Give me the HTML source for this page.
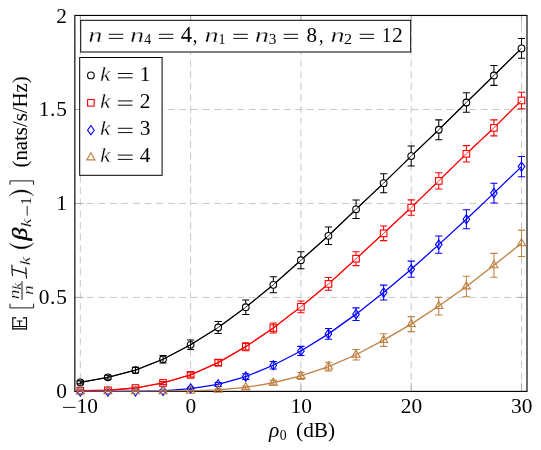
<!DOCTYPE html>
<html><head><meta charset="utf-8"><title>chart</title>
<style>html,body{margin:0;padding:0;background:#fff}svg{display:block;will-change:transform}text{font-family:"Liberation Serif",serif;fill:#000}.i{font-style:italic}.bi{font-style:italic;font-weight:bold}</style>
</head><body>
<svg width="541" height="450" viewBox="0 0 541 450">
<rect x="0" y="0" width="541" height="450" fill="#ffffff"/>
<g stroke="#bfbfbf" stroke-width="0.86" stroke-dasharray="7.1 4.5" fill="none">
<line x1="80.30" y1="391.4" x2="80.30" y2="15.45"/>
<line x1="190.60" y1="391.4" x2="190.60" y2="15.45"/>
<line x1="300.90" y1="391.4" x2="300.90" y2="15.45"/>
<line x1="411.20" y1="391.4" x2="411.20" y2="15.45"/>
<line x1="521.50" y1="391.4" x2="521.50" y2="15.45"/>
<line x1="74.85" y1="297.42" x2="527.0" y2="297.42"/>
<line x1="74.85" y1="203.45" x2="527.0" y2="203.45"/>
<line x1="74.85" y1="109.48" x2="527.0" y2="109.48"/>
</g>
<g stroke="#808080" stroke-width="0.45" fill="none">
<path d="M80.30 391.4v-9.2M80.30 15.45v9.2"/>
<path d="M190.60 391.4v-9.2M190.60 15.45v9.2"/>
<path d="M300.90 391.4v-9.2M300.90 15.45v9.2"/>
<path d="M411.20 391.4v-9.2M411.20 15.45v9.2"/>
<path d="M521.50 391.4v-9.2M521.50 15.45v9.2"/>
<path d="M74.85 297.42h9.2M527.0 297.42h-9.2"/>
<path d="M74.85 203.45h9.2M527.0 203.45h-9.2"/>
<path d="M74.85 109.48h9.2M527.0 109.48h-9.2"/>
</g>
<rect x="74.85" y="15.45" width="452.15" height="375.95" fill="none" stroke="#000" stroke-width="1.15"/>
<defs><clipPath id="axclip"><rect x="74.85" y="15.45" width="452.15" height="375.95"/></clipPath></defs>
<g stroke="#000000" fill="none" clip-path="url(#axclip)">
<polyline points="80.30,382.38 107.88,377.30 135.45,370.16 163.02,359.26 190.60,344.79 218.18,327.50 245.75,307.20 273.32,284.83 300.90,260.21 328.47,235.78 356.05,209.28 383.62,183.15 411.20,156.09 438.77,129.77 466.35,102.52 493.93,75.46 521.50,48.39" stroke-width="1.3"/>
<path d="M80.30 380.88V383.88M76.70 380.88H83.90M76.70 383.88H83.90M107.88 375.30V379.30M104.28 375.30H111.47M104.28 379.30H111.47M135.45 367.36V372.96M131.85 367.36H139.05M131.85 372.96H139.05M163.02 355.56V362.96M159.42 355.56H166.62M159.42 362.96H166.62M190.60 339.99V349.59M187.00 339.99H194.20M187.00 349.59H194.20M218.18 321.50V333.50M214.58 321.50H221.78M214.58 333.50H221.78M245.75 299.90V314.50M242.15 299.90H249.35M242.15 314.50H249.35M273.32 276.83V292.83M269.72 276.83H276.93M269.72 292.83H276.93M300.90 251.71V268.71M297.30 251.71H304.50M297.30 268.71H304.50M328.47 226.98V244.58M324.87 226.98H332.07M324.87 244.58H332.07M356.05 200.08V218.48M352.45 200.08H359.65M352.45 218.48H359.65M383.62 173.65V192.65M380.02 173.65H387.23M380.02 192.65H387.23M411.20 146.09V166.09M407.60 146.09H414.80M407.60 166.09H414.80M438.77 119.87V139.67M435.17 119.87H442.38M435.17 139.67H442.38M466.35 92.72V112.32M462.75 92.72H469.95M462.75 112.32H469.95M493.93 65.56V85.36M490.32 65.56H497.53M490.32 85.36H497.53M521.50 38.59V58.19M517.90 38.59H525.10M517.90 58.19H525.10" stroke-width="1.05"/>
</g>
<circle cx="80.30" cy="382.38" r="3.35" fill="none" stroke="#000000" stroke-width="1.1"/>
<circle cx="107.88" cy="377.30" r="3.35" fill="none" stroke="#000000" stroke-width="1.1"/>
<circle cx="135.45" cy="370.16" r="3.35" fill="none" stroke="#000000" stroke-width="1.1"/>
<circle cx="163.02" cy="359.26" r="3.35" fill="none" stroke="#000000" stroke-width="1.1"/>
<circle cx="190.60" cy="344.79" r="3.35" fill="none" stroke="#000000" stroke-width="1.1"/>
<circle cx="218.18" cy="327.50" r="3.35" fill="#fff" stroke="#000000" stroke-width="1.1"/>
<circle cx="245.75" cy="307.20" r="3.35" fill="#fff" stroke="#000000" stroke-width="1.1"/>
<circle cx="273.32" cy="284.83" r="3.35" fill="#fff" stroke="#000000" stroke-width="1.1"/>
<circle cx="300.90" cy="260.21" r="3.35" fill="#fff" stroke="#000000" stroke-width="1.1"/>
<circle cx="328.47" cy="235.78" r="3.35" fill="#fff" stroke="#000000" stroke-width="1.1"/>
<circle cx="356.05" cy="209.28" r="3.35" fill="#fff" stroke="#000000" stroke-width="1.1"/>
<circle cx="383.62" cy="183.15" r="3.35" fill="#fff" stroke="#000000" stroke-width="1.1"/>
<circle cx="411.20" cy="156.09" r="3.35" fill="#fff" stroke="#000000" stroke-width="1.1"/>
<circle cx="438.77" cy="129.77" r="3.35" fill="#fff" stroke="#000000" stroke-width="1.1"/>
<circle cx="466.35" cy="102.52" r="3.35" fill="#fff" stroke="#000000" stroke-width="1.1"/>
<circle cx="493.93" cy="75.46" r="3.35" fill="#fff" stroke="#000000" stroke-width="1.1"/>
<circle cx="521.50" cy="48.39" r="3.35" fill="#fff" stroke="#000000" stroke-width="1.1"/>
<g stroke="#000000" fill="none" clip-path="url(#axclip)" stroke-width="0.8">
<polyline points="80.30,382.38 107.88,377.30 135.45,370.16 163.02,359.26 190.60,344.79 218.18,327.50 245.75,307.20 273.32,284.83 300.90,260.21 328.47,235.78 356.05,209.28 383.62,183.15 411.20,156.09 438.77,129.77 466.35,102.52 493.93,75.46 521.50,48.39"/>
</g>
<g stroke="#ff0000" fill="none" clip-path="url(#axclip)">
<polyline points="80.30,390.65 107.88,390.27 135.45,388.02 163.02,382.94 190.60,374.86 218.18,362.64 245.75,346.67 273.32,328.06 300.90,306.82 328.47,283.89 356.05,258.71 383.62,233.33 411.20,207.58 438.77,180.90 466.35,153.83 493.93,127.89 521.50,100.45" stroke-width="1.3"/>
<path d="M80.30 390.15V391.15M76.70 390.15H83.90M76.70 391.15H83.90M107.88 389.57V390.97M104.28 389.57H111.47M104.28 390.97H111.47M135.45 387.02V389.02M131.85 387.02H139.05M131.85 389.02H139.05M163.02 381.44V384.44M159.42 381.44H166.62M159.42 384.44H166.62M190.60 372.66V377.06M187.00 372.66H194.20M187.00 377.06H194.20M218.18 359.64V365.64M214.58 359.64H221.78M214.58 365.64H221.78M245.75 342.67V350.67M242.15 342.67H249.35M242.15 350.67H249.35M273.32 323.06V333.06M269.72 323.06H276.93M269.72 333.06H276.93M300.90 300.92V312.72M297.30 300.92H304.50M297.30 312.72H304.50M328.47 277.49V290.29M324.87 277.49H332.07M324.87 290.29H332.07M356.05 251.81V265.61M352.45 251.81H359.65M352.45 265.61H359.65M383.62 226.03V240.63M380.02 226.03H387.23M380.02 240.63H387.23M411.20 199.88V215.28M407.60 199.88H414.80M407.60 215.28H414.80M438.77 172.80V189.00M435.17 172.80H442.38M435.17 189.00H442.38M466.35 145.63V162.03M462.75 145.63H469.95M462.75 162.03H469.95M493.93 119.89V135.89M490.32 119.89H497.53M490.32 135.89H497.53M521.50 92.25V108.65M517.90 92.25H525.10M517.90 108.65H525.10" stroke-width="1.05"/>
</g>
<rect x="77.00" y="387.35" width="6.60" height="6.60" fill="none" stroke="#ff0000" stroke-width="1.1"/>
<rect x="104.58" y="386.97" width="6.60" height="6.60" fill="none" stroke="#ff0000" stroke-width="1.1"/>
<rect x="132.15" y="384.72" width="6.60" height="6.60" fill="none" stroke="#ff0000" stroke-width="1.1"/>
<rect x="159.72" y="379.64" width="6.60" height="6.60" fill="none" stroke="#ff0000" stroke-width="1.1"/>
<rect x="187.30" y="371.56" width="6.60" height="6.60" fill="none" stroke="#ff0000" stroke-width="1.1"/>
<rect x="214.88" y="359.34" width="6.60" height="6.60" fill="none" stroke="#ff0000" stroke-width="1.1"/>
<rect x="242.45" y="343.37" width="6.60" height="6.60" fill="none" stroke="#ff0000" stroke-width="1.1"/>
<rect x="270.02" y="324.76" width="6.60" height="6.60" fill="none" stroke="#ff0000" stroke-width="1.1"/>
<rect x="297.60" y="303.52" width="6.60" height="6.60" fill="#fff" stroke="#ff0000" stroke-width="1.1"/>
<rect x="325.17" y="280.59" width="6.60" height="6.60" fill="#fff" stroke="#ff0000" stroke-width="1.1"/>
<rect x="352.75" y="255.41" width="6.60" height="6.60" fill="#fff" stroke="#ff0000" stroke-width="1.1"/>
<rect x="380.32" y="230.03" width="6.60" height="6.60" fill="#fff" stroke="#ff0000" stroke-width="1.1"/>
<rect x="407.90" y="204.28" width="6.60" height="6.60" fill="#fff" stroke="#ff0000" stroke-width="1.1"/>
<rect x="435.47" y="177.60" width="6.60" height="6.60" fill="#fff" stroke="#ff0000" stroke-width="1.1"/>
<rect x="463.05" y="150.53" width="6.60" height="6.60" fill="#fff" stroke="#ff0000" stroke-width="1.1"/>
<rect x="490.62" y="124.59" width="6.60" height="6.60" fill="#fff" stroke="#ff0000" stroke-width="1.1"/>
<rect x="518.20" y="97.15" width="6.60" height="6.60" fill="#fff" stroke="#ff0000" stroke-width="1.1"/>
<g stroke="#ff0000" fill="none" clip-path="url(#axclip)" stroke-width="0.8">
<polyline points="80.30,390.65 107.88,390.27 135.45,388.02 163.02,382.94 190.60,374.86 218.18,362.64 245.75,346.67 273.32,328.06 300.90,306.82 328.47,283.89 356.05,258.71 383.62,233.33 411.20,207.58 438.77,180.90 466.35,153.83 493.93,127.89 521.50,100.45"/>
</g>
<g stroke="#0000ff" fill="none" clip-path="url(#axclip)">
<polyline points="80.30,391.40 107.88,391.40 135.45,391.31 163.02,390.84 190.60,388.58 218.18,384.45 245.75,376.55 273.32,365.27 300.90,350.99 328.47,333.89 356.05,314.15 383.62,292.54 411.20,269.23 438.77,244.61 466.35,219.24 493.93,193.11 521.50,166.61" stroke-width="1.3"/>
<path d="M80.30 391.20V391.60M76.70 391.20H83.90M76.70 391.60H83.90M107.88 391.10V391.70M104.28 391.10H111.47M104.28 391.70H111.47M135.45 390.81V391.81M131.85 390.81H139.05M131.85 391.81H139.05M163.02 390.04V391.64M159.42 390.04H166.62M159.42 391.64H166.62M190.60 387.28V389.88M187.00 387.28H194.20M187.00 389.88H194.20M218.18 382.45V386.45M214.58 382.45H221.78M214.58 386.45H221.78M245.75 373.75V379.35M242.15 373.75H249.35M242.15 379.35H249.35M273.32 361.47V369.07M269.72 361.47H276.93M269.72 369.07H276.93M300.90 346.39V355.59M297.30 346.39H304.50M297.30 355.59H304.50M328.47 328.49V339.29M324.87 328.49H332.07M324.87 339.29H332.07M356.05 307.85V320.45M352.45 307.85H359.65M352.45 320.45H359.65M383.62 285.14V299.94M380.02 285.14H387.23M380.02 299.94H387.23M411.20 261.13V277.33M407.60 261.13H414.80M407.60 277.33H414.80M438.77 235.91V253.31M435.17 235.91H442.38M435.17 253.31H442.38M466.35 209.74V228.74M462.75 209.74H469.95M462.75 228.74H469.95M493.93 183.31V202.91M490.32 183.31H497.53M490.32 202.91H497.53M521.50 156.41V176.81M517.90 156.41H525.10M517.90 176.81H525.10" stroke-width="1.05"/>
</g>
<path d="M80.30 386.75L83.60 391.40L80.30 396.05L77.00 391.40Z" fill="none" stroke="#0000ff" stroke-width="1.1"/>
<path d="M107.88 386.75L111.17 391.40L107.88 396.05L104.58 391.40Z" fill="none" stroke="#0000ff" stroke-width="1.1"/>
<path d="M135.45 386.66L138.75 391.31L135.45 395.96L132.15 391.31Z" fill="none" stroke="#0000ff" stroke-width="1.1"/>
<path d="M163.02 386.19L166.32 390.84L163.02 395.49L159.72 390.84Z" fill="none" stroke="#0000ff" stroke-width="1.1"/>
<path d="M190.60 383.93L193.90 388.58L190.60 393.23L187.30 388.58Z" fill="none" stroke="#0000ff" stroke-width="1.1"/>
<path d="M218.18 379.80L221.48 384.45L218.18 389.10L214.88 384.45Z" fill="none" stroke="#0000ff" stroke-width="1.1"/>
<path d="M245.75 371.90L249.05 376.55L245.75 381.20L242.45 376.55Z" fill="none" stroke="#0000ff" stroke-width="1.1"/>
<path d="M273.32 360.62L276.62 365.27L273.32 369.92L270.02 365.27Z" fill="none" stroke="#0000ff" stroke-width="1.1"/>
<path d="M300.90 346.34L304.20 350.99L300.90 355.64L297.60 350.99Z" fill="none" stroke="#0000ff" stroke-width="1.1"/>
<path d="M328.47 329.24L331.77 333.89L328.47 338.54L325.17 333.89Z" fill="none" stroke="#0000ff" stroke-width="1.1"/>
<path d="M356.05 309.50L359.35 314.15L356.05 318.80L352.75 314.15Z" fill="none" stroke="#0000ff" stroke-width="1.1"/>
<path d="M383.62 287.89L386.93 292.54L383.62 297.19L380.32 292.54Z" fill="none" stroke="#0000ff" stroke-width="1.1"/>
<path d="M411.20 264.58L414.50 269.23L411.20 273.88L407.90 269.23Z" fill="none" stroke="#0000ff" stroke-width="1.1"/>
<path d="M438.77 239.96L442.07 244.61L438.77 249.26L435.47 244.61Z" fill="none" stroke="#0000ff" stroke-width="1.1"/>
<path d="M466.35 214.59L469.65 219.24L466.35 223.89L463.05 219.24Z" fill="none" stroke="#0000ff" stroke-width="1.1"/>
<path d="M493.93 188.46L497.23 193.11L493.93 197.76L490.62 193.11Z" fill="none" stroke="#0000ff" stroke-width="1.1"/>
<path d="M521.50 161.96L524.80 166.61L521.50 171.26L518.20 166.61Z" fill="none" stroke="#0000ff" stroke-width="1.1"/>
<g stroke="#bf8040" fill="none" clip-path="url(#axclip)">
<polyline points="80.30,391.40 107.88,391.40 135.45,391.31 163.02,391.21 190.60,390.84 218.18,389.90 245.75,387.45 273.32,382.75 300.90,375.99 328.47,366.59 356.05,354.75 383.62,340.09 411.20,324.11 438.77,306.07 466.35,286.52 493.93,265.29 521.50,243.30" stroke-width="1.3"/>
<path d="M80.30 391.20V391.60M76.70 391.20H83.90M76.70 391.60H83.90M107.88 391.20V391.60M104.28 391.20H111.47M104.28 391.60H111.47M135.45 391.11V391.51M131.85 391.11H139.05M131.85 391.51H139.05M163.02 391.01V391.41M159.42 391.01H166.62M159.42 391.41H166.62M190.60 390.44V391.24M187.00 390.44H194.20M187.00 391.24H194.20M218.18 389.10V390.70M214.58 389.10H221.78M214.58 390.70H221.78M245.75 385.95V388.95M242.15 385.95H249.35M242.15 388.95H249.35M273.32 380.25V385.25M269.72 380.25H276.93M269.72 385.25H276.93M300.90 372.59V379.39M297.30 372.59H304.50M297.30 379.39H304.50M328.47 362.29V370.89M324.87 362.29H332.07M324.87 370.89H332.07M356.05 349.45V360.05M352.45 349.45H359.65M352.45 360.05H359.65M383.62 333.79V346.39M380.02 333.79H387.23M380.02 346.39H387.23M411.20 316.61V331.61M407.60 316.61H414.80M407.60 331.61H414.80M438.77 297.17V314.97M435.17 297.17H442.38M435.17 314.97H442.38M466.35 276.22V296.82M462.75 276.22H469.95M462.75 296.82H469.95M493.93 253.39V277.19M490.32 253.39H497.53M490.32 277.19H497.53M521.50 230.10V256.50M517.90 230.10H525.10M517.90 256.50H525.10" stroke-width="1.05"/>
</g>
<path d="M80.30 386.60L84.40 393.80L76.20 393.80Z" fill="none" stroke="#bf8040" stroke-width="1.1"/>
<path d="M107.88 386.60L111.97 393.80L103.78 393.80Z" fill="none" stroke="#bf8040" stroke-width="1.1"/>
<path d="M135.45 386.51L139.55 393.71L131.35 393.71Z" fill="none" stroke="#bf8040" stroke-width="1.1"/>
<path d="M163.02 386.41L167.12 393.61L158.92 393.61Z" fill="none" stroke="#bf8040" stroke-width="1.1"/>
<path d="M190.60 386.04L194.70 393.24L186.50 393.24Z" fill="none" stroke="#bf8040" stroke-width="1.1"/>
<path d="M218.18 385.10L222.28 392.30L214.08 392.30Z" fill="none" stroke="#bf8040" stroke-width="1.1"/>
<path d="M245.75 382.65L249.85 389.85L241.65 389.85Z" fill="none" stroke="#bf8040" stroke-width="1.1"/>
<path d="M273.32 377.95L277.43 385.15L269.22 385.15Z" fill="none" stroke="#bf8040" stroke-width="1.1"/>
<path d="M300.90 371.19L305.00 378.39L296.80 378.39Z" fill="none" stroke="#bf8040" stroke-width="1.1"/>
<path d="M328.47 361.79L332.57 368.99L324.37 368.99Z" fill="none" stroke="#bf8040" stroke-width="1.1"/>
<path d="M356.05 349.95L360.15 357.15L351.95 357.15Z" fill="none" stroke="#bf8040" stroke-width="1.1"/>
<path d="M383.62 335.29L387.73 342.49L379.52 342.49Z" fill="none" stroke="#bf8040" stroke-width="1.1"/>
<path d="M411.20 319.31L415.30 326.51L407.10 326.51Z" fill="none" stroke="#bf8040" stroke-width="1.1"/>
<path d="M438.77 301.27L442.88 308.47L434.67 308.47Z" fill="none" stroke="#bf8040" stroke-width="1.1"/>
<path d="M466.35 281.72L470.45 288.92L462.25 288.92Z" fill="none" stroke="#bf8040" stroke-width="1.1"/>
<path d="M493.93 260.49L498.03 267.69L489.82 267.69Z" fill="none" stroke="#bf8040" stroke-width="1.1"/>
<path d="M521.50 238.50L525.60 245.70L517.40 245.70Z" fill="none" stroke="#bf8040" stroke-width="1.1"/>
<g font-size="21.4">
<text x="67.0" y="398.40" text-anchor="end">0</text>
<text x="38.7" y="304.42" textLength="28.2" lengthAdjust="spacing">0.5</text>
<text x="67.0" y="210.45" text-anchor="end">1</text>
<text x="38.7" y="116.48" textLength="28.2" lengthAdjust="spacing">1.5</text>
<text x="67.0" y="22.50" text-anchor="end">2</text>
<text x="190.90" y="413.3" text-anchor="middle">0</text>
<text x="301.20" y="413.3" text-anchor="middle">10</text>
<text x="411.50" y="413.3" text-anchor="middle">20</text>
<text x="521.80" y="413.3" text-anchor="middle">30</text>
<path d="M63.0 407.4H75.6" stroke="#000" stroke-width="0.9" fill="none"/>
<text x="76.6" y="413.3">10</text>
</g>
<text transform="translate(268.95 437.10) scale(1.022 1)" font-size="21" class="i" fill="#000">ρ</text>
<text transform="translate(279.68 439.50) scale(0.925 1)" font-size="14.8" fill="#000">0</text>
<text x="296.1" y="437.1" font-size="21.3">(dB)</text>
<rect x="80.7" y="20.3" width="330.0" height="31.7" fill="#fff" stroke="#000" stroke-width="1.0"/>
<rect x="79.7" y="57.5" width="82.4" height="117.8" fill="#fff" stroke="#000" stroke-width="1.0"/>
<circle cx="90.90" cy="75.40" r="3.35" fill="none" stroke="#000000" stroke-width="1.1"/>
<text transform="translate(99.92 80.60) scale(1.164 1)" font-size="20.4" class="i" fill="#000" stroke="#fff" stroke-width="0.291">k</text>
<path d="M117.8 73.50H132.6M117.8 77.80H132.6" stroke="#000" stroke-width="0.95" fill="none"/>
<text x="139.7" y="80.60" font-size="21.4">1</text>
<rect x="87.60" y="99.50" width="6.60" height="6.60" fill="none" stroke="#ff0000" stroke-width="1.1"/>
<text transform="translate(99.92 108.00) scale(1.164 1)" font-size="20.4" class="i" fill="#000" stroke="#fff" stroke-width="0.291">k</text>
<path d="M117.8 100.90H132.6M117.8 105.20H132.6" stroke="#000" stroke-width="0.95" fill="none"/>
<text x="139.7" y="108.00" font-size="21.4">2</text>
<path d="M90.90 125.55L94.20 130.20L90.90 134.85L87.60 130.20Z" fill="none" stroke="#0000ff" stroke-width="1.1"/>
<text transform="translate(99.92 135.40) scale(1.164 1)" font-size="20.4" class="i" fill="#000" stroke="#fff" stroke-width="0.291">k</text>
<path d="M117.8 128.30H132.6M117.8 132.60H132.6" stroke="#000" stroke-width="0.95" fill="none"/>
<text x="139.7" y="135.40" font-size="21.4">3</text>
<path d="M90.90 152.70L95.00 159.90L86.80 159.90Z" fill="none" stroke="#bf8040" stroke-width="1.1"/>
<text transform="translate(99.92 162.20) scale(1.164 1)" font-size="20.4" class="i" fill="#000" stroke="#fff" stroke-width="0.291">k</text>
<path d="M117.8 155.10H132.6M117.8 159.40H132.6" stroke="#000" stroke-width="0.95" fill="none"/>
<text x="139.7" y="162.20" font-size="21.4">4</text>
<text transform="translate(88.19 41.50) scale(1.351 1)" font-size="21.0" class="i" fill="#000" stroke="#fff" stroke-width="0.3">n</text>
<path d="M108.80 34.30H123.20M108.80 38.40H123.20" stroke="#000" stroke-width="0.95" fill="none"/>
<text transform="translate(129.89 41.50) scale(1.351 1)" font-size="21.0" class="i" fill="#000" stroke="#fff" stroke-width="0.3">n</text>
<text transform="translate(144.33 44.20) scale(1.013 1)" font-size="13.8" fill="#000">4</text>
<path d="M158.90 34.30H173.30M158.90 38.40H173.30" stroke="#000" stroke-width="0.95" fill="none"/>
<text transform="translate(180.86 41.50) scale(1.008 1)" font-size="22.4" fill="#000">4</text>
<text transform="translate(192.68 41.50) scale(0.895 1)" font-size="21.0" fill="#000">,</text>
<text transform="translate(204.39 41.50) scale(1.351 1)" font-size="21.0" class="i" fill="#000" stroke="#fff" stroke-width="0.3">n</text>
<text transform="translate(218.58 44.20) scale(1.009 1)" font-size="13.8" fill="#000">1</text>
<path d="M233.40 34.30H247.80M233.40 38.40H247.80" stroke="#000" stroke-width="0.95" fill="none"/>
<text transform="translate(254.68 41.50) scale(1.363 1)" font-size="21.0" class="i" fill="#000" stroke="#fff" stroke-width="0.3">n</text>
<text transform="translate(268.77 44.20) scale(1.105 1)" font-size="13.8" fill="#000">3</text>
<path d="M283.70 34.30H298.10M283.70 38.40H298.10" stroke="#000" stroke-width="0.95" fill="none"/>
<text transform="translate(306.60 41.50) scale(1.000 1)" font-size="21.0" fill="#000">8</text>
<text transform="translate(319.11 41.50) scale(0.863 1)" font-size="21.0" fill="#000">,</text>
<text transform="translate(330.39 41.50) scale(1.351 1)" font-size="21.0" class="i" fill="#000" stroke="#fff" stroke-width="0.3">n</text>
<text transform="translate(343.99 44.20) scale(1.175 1)" font-size="13.8" fill="#000">2</text>
<path d="M359.70 34.30H374.10M359.70 38.40H374.10" stroke="#000" stroke-width="0.95" fill="none"/>
<text transform="translate(381.88 41.50) scale(0.879 1)" font-size="21.0" fill="#000">1</text>
<text transform="translate(392.05 41.50) scale(1.033 1)" font-size="21.0" fill="#000">2</text>
<g transform="translate(0 450) rotate(-90)">
<path d="M120.2 12.8H132.2V16.2M120.2 26.5H132.2V22.9M121.10000000000001 12.8V26.5M123.5 12.8V26.5M123.5 19.65H129.0M129.0 16.85V22.45" stroke="#000" stroke-width="1.15" fill="none"/>
<path d="M146.3 10H142.1V33.6H146.3" stroke="#000" stroke-width="0.9" fill="none"/>
<text transform="translate(150.71 18.60) scale(1.337 1)" font-size="14.5" class="i" fill="#000" stroke="#fff" stroke-width="0.207">n</text>
<text transform="translate(160.34 21.00) scale(1.388 1)" font-size="11.4" class="i" fill="#000" stroke="#fff" stroke-width="0.163">k</text>
<path d="M150.2 22H168.8" stroke="#000" stroke-width="0.9" fill="none"/>
<text transform="translate(155.11 32.80) scale(1.337 1)" font-size="14.5" class="i" fill="#000" stroke="#fff" stroke-width="0.207">n</text>
<path d="M174.6 12.6C177.5 11.6 182 12.2 185 11.9M171.8 26.5C175 25.8 179 26.4 182.2 25.8M180.6 12.2C179.6 17 178.2 22 176.4 26.1" stroke="#000" stroke-width="1.1" fill="none" stroke-linecap="round"/>
<text transform="translate(184.85 30.30) scale(1.272 1)" font-size="15" class="i" fill="#000" stroke="#fff" stroke-width="0.214">k</text>
<path d="M207 9.2C199.3 15.5 199.3 27.5 207 33.8C201.6 27.5 201.6 15.5 207 9.2Z" stroke="#000" stroke-width="0.35" fill="#000"/>
<text transform="translate(209.41 26.80) scale(1.198 1)" font-size="21.5" class="i" fill="#000" stroke="#000" stroke-width="0.45">β</text>
<text transform="translate(222.64 31.20) scale(1.303 1)" font-size="15" class="i" fill="#000" stroke="#fff" stroke-width="0.214">k</text>
<path d="M234.4 27.2H244" stroke="#000" stroke-width="0.85" fill="none"/>
<text transform="translate(245.30 31.20) scale(1.012 1)" font-size="14.6" fill="#000">1</text>
<path d="M254.2 9.2C261.9 15.5 261.9 27.5 254.2 33.8C259.6 27.5 259.6 15.5 254.2 9.2Z" stroke="#000" stroke-width="0.35" fill="#000"/>
<path d="M265.2 10H269.1V33.6H265.2" stroke="#000" stroke-width="0.9" fill="none"/>
<text x="282.5" y="26.8" font-size="21" textLength="91.3" lengthAdjust="spacingAndGlyphs">(nats/s/Hz)</text>
</g>
</svg></body></html>
